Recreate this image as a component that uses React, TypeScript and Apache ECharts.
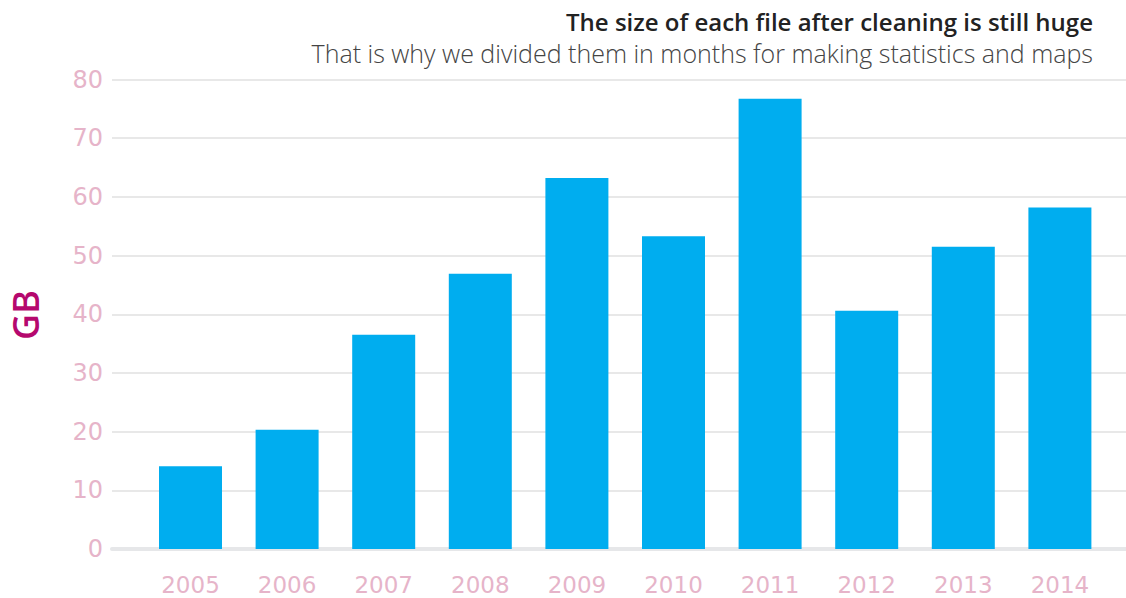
import React, { useEffect, useRef } from "react";
import * as echarts from "echarts";

const years = ["2005", "2006", "2007", "2008", "2009", "2010", "2011", "2012", "2013", "2014"];
const sizesGB = [14.1, 20.3, 36.5, 46.9, 63.2, 53.3, 76.7, 40.6, 51.5, 58.2];
const yTicks = { min: 0, max: 80, interval: 10 };
const titleText = "The size of each file after cleaning is still huge";
const subtitleText = "That is why we divided them in months for making statistics and maps";
const yName = "GB";

export default function App() {
  const ref = useRef<HTMLDivElement>(null);
  useEffect(() => {
    if (!ref.current) return;
    const chart = echarts.init(ref.current, null, { renderer: "svg" });
    const top = 79.5;
    const bottom = 598 - 549;
    const labelColor = "#e6b4c9";
    chart.setOption({
      animation: false,
      backgroundColor: "#ffffff",
      grid: [
        { left: 112, right: 0, top, bottom },
        { left: 142.2, right: 17.8, top, bottom },
      ],
      xAxis: [
        {
          gridIndex: 0,
          type: "value",
          min: 0,
          max: 1,
          offset: 2,
          axisLine: { show: true, lineStyle: { color: "#e6e7e9", width: 4 } },
          axisTick: { show: false },
          axisLabel: { show: false },
          splitLine: { show: false },
        },
        {
          gridIndex: 1,
          type: "category",
          data: years,
          axisLine: { show: false },
          axisTick: { show: false },
          axisLabel: {
            margin: 25,
            color: labelColor,
            fontSize: 23,
            lineHeight: 22,
            fontFamily: "DejaVu Sans",
          },
        },
      ],
      yAxis: [
        {
          gridIndex: 0,
          type: "value",
          min: yTicks.min,
          max: yTicks.max,
          interval: yTicks.interval,
          axisLine: { show: false },
          axisTick: { show: false },
          axisLabel: { margin: 9, color: labelColor, fontSize: 24, fontFamily: "DejaVu Sans" },
          splitLine: { lineStyle: { color: "#e8e8e8", width: 2 } },
        },
        {
          gridIndex: 1,
          type: "value",
          min: yTicks.min,
          max: yTicks.max,
          show: false,
          splitLine: { show: false },
        },
      ],
      graphic: [
        {
          type: "text",
          x: 1093,
          y: 21,
          style: {
            text: titleText,
            fontFamily: "Open Sans",
            fontSize: 24,
            fontWeight: 600,
            fill: "#222222",
            align: "right",
            verticalAlign: "middle",
          },
        },
        {
          type: "text",
          x: 1093,
          y: 53,
          style: {
            text: subtitleText,
            fontFamily: "Open Sans",
            fontSize: 25,
            fontWeight: 300,
            fill: "#444444",
            align: "right",
            verticalAlign: "middle",
          },
        },
        {
          type: "text",
          x: 25,
          y: 315,
          rotation: Math.PI / 2,
          style: {
            text: yName,
            fontFamily: "Open Sans",
            fontSize: 36,
            fontWeight: 600,
            fill: "#b5086e",
            align: "center",
            verticalAlign: "middle",
          },
        },
      ],
      series: [
        {
          type: "bar",
          xAxisIndex: 1,
          yAxisIndex: 1,
          data: sizesGB,
          barWidth: 63,
          itemStyle: { color: "#00adef" },
        },
      ],
    });
    return () => chart.dispose();
  }, []);
  return (
    <div
      ref={ref}
      style={{ position: "fixed", left: 0, top: 0, width: 1126, height: 598 }}
    />
  );
}
